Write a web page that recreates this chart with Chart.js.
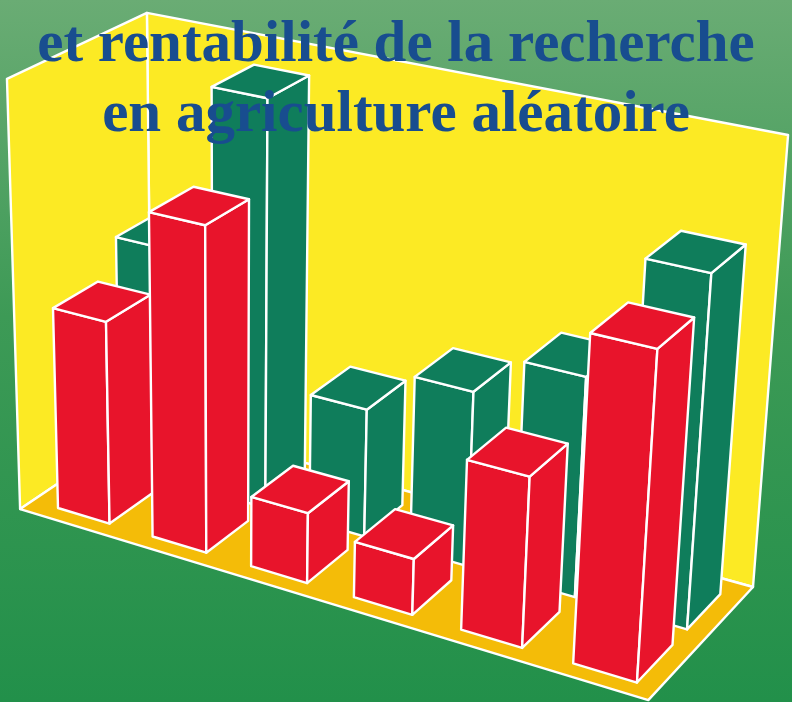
<!DOCTYPE html>
<html lang="fr">
<head>
<meta charset="utf-8">
<title>et rentabilité de la recherche en agriculture aléatoire</title>
<script src="https://cdn.jsdelivr.net/npm/chart.js@4.4.1/dist/chart.umd.min.js"></script>
<style>
  html, body { margin: 0; padding: 0; background: #3f9a58; }
  #wrap { width: 792px; height: 702px; position: relative; }
</style>
</head>
<body>
<div id="wrap"><canvas id="chart"></canvas></div>
<script>
// values (wall height = 100)
const categories = ['1', '2', '3', '4', '5', '6'];
const frontValues = [48, 75.3, 16.4, 12.9, 38.3, 71.6];   // red row
const backValues = [56, 95.4, 30.2, 40.6, 50.1, 78.2];    // green row
const titleLines = ['et rentabilité de la recherche', 'en agriculture aléatoire'];

// perspective camera: image of the origin, vanishing points and axis scales
const ORIGIN = { x: 58, y: 508 };
const VX = { x: -4553, y: -882 };
const VY = { x: 229, y: 7344 };
const VZ = { x: 2163, y: -936 };
const KX = -0.0201, KY = -0.0005919, KZ = 0.02117;

// box and rows in world units (x: categories, y: values, z: bar depths)
const BOX = { x0: -0.2725, x1: 5.733, z0: -0.283, z1: 2.80, top: 100 };
const ROWS = [{ z0: 0, z1: 1 }, { z0: 1.424, z1: 2.424 }];

const COLORS = {
    front: '#e8142b',
    back: '#0f7d5b',
    wall: '#fcea24',
    floor: '#f4bc08',
    line: '#ffffff',
    title: '#184d8f'
};

function project(X, Y, Z) {
    const w = 1 + KX * X + KY * Y + KZ * Z;
    const px = ORIGIN.x + KX * X * VX.x + KY * Y * VY.x + KZ * Z * VZ.x;
    const py = ORIGIN.y + KX * X * VX.y + KY * Y * VY.y + KZ * Z * VZ.y;
    return [px / w, py / w];
}

function face(ctx, corners, fill) {
    ctx.beginPath();
    corners.forEach((c, i) => {
        const p = project(c[0], c[1], c[2]);
        if (i === 0) ctx.moveTo(p[0], p[1]);
        else ctx.lineTo(p[0], p[1]);
    });
    ctx.closePath();
    ctx.fillStyle = fill;
    ctx.fill();
    ctx.stroke();
}

function drawBox(ctx, x0, x1, h, z0, z1, fill) {
    face(ctx, [[x0, 0, z0], [x1, 0, z0], [x1, h, z0], [x0, h, z0]], fill);
    face(ctx, [[x1, 0, z0], [x1, 0, z1], [x1, h, z1], [x1, h, z0]], fill);
    face(ctx, [[x0, h, z0], [x1, h, z0], [x1, h, z1], [x0, h, z1]], fill);
}

const scene3d = {
    id: 'scene3d',
    beforeDraw(chart) {
        const ctx = chart.ctx;
        const xs = chart.scales.x;
        const ys = chart.scales.y;
        const catW = xs.width / categories.length;

        ctx.save();
        const bg = ctx.createLinearGradient(0, 0, 0, chart.height);
        bg.addColorStop(0, '#6aac74');
        bg.addColorStop(0.45, '#3d9a56');
        bg.addColorStop(1, '#22904a');
        ctx.fillStyle = bg;
        ctx.fillRect(0, 0, chart.width, chart.height);

        ctx.strokeStyle = COLORS.line;
        ctx.lineWidth = 2.4;
        ctx.lineJoin = 'round';

        const b = BOX;
        face(ctx, [[b.x0, 0, b.z1], [b.x1, 0, b.z1], [b.x1, b.top, b.z1], [b.x0, b.top, b.z1]], COLORS.wall);
        face(ctx, [[b.x0, 0, b.z0], [b.x0, 0, b.z1], [b.x0, b.top, b.z1], [b.x0, b.top, b.z0]], COLORS.wall);
        face(ctx, [[b.x0, 0, b.z0], [b.x1, 0, b.z0], [b.x1, 0, b.z1], [b.x0, 0, b.z1]], COLORS.floor);

        // back row first, then front row; left to right inside a row
        [1, 0].forEach(di => {
            const meta = chart.getDatasetMeta(di);
            const row = ROWS[di];
            const fill = chart.data.datasets[di].faceColor;
            meta.data.forEach(el => {
                const x0 = (el.x - el.width / 2 - xs.left) / catW - 0.225;
                const x1 = x0 + el.width / catW;
                const h = ys.getValueForPixel(el.y) - ys.getValueForPixel(el.base);
                drawBox(ctx, x0, x1, h, row.z0, row.z1, fill);
            });
        });
        ctx.restore();
    }
};

new Chart(document.getElementById('chart'), {
    type: 'bar',
    data: {
        labels: categories,
        datasets: [{
            label: 'rentabilité',
            data: frontValues,
            faceColor: COLORS.front,
            backgroundColor: 'rgba(0,0,0,0)',
            borderWidth: 0,
            grouped: false,
            barPercentage: 0.55,
            categoryPercentage: 1
        }, {
            label: 'recherche',
            data: backValues,
            faceColor: COLORS.back,
            backgroundColor: 'rgba(0,0,0,0)',
            borderWidth: 0,
            grouped: false,
            barPercentage: 0.55,
            categoryPercentage: 1
        }]
    },
    options: {
        responsive: true,
        maintainAspectRatio: false,
        animation: false,
        events: [],
        layout: { padding: 0 },
        plugins: {
            legend: { display: false },
            tooltip: { enabled: false },
            title: {
                display: true,
                text: titleLines,
                color: COLORS.title,
                font: { family: 'Liberation Serif', size: 59, weight: 'bold', lineHeight: 1.186 },
                padding: { top: 11, bottom: 0 }
            }
        },
        scales: {
            x: { display: false },
            y: { display: false, min: 0, max: 100 }
        }
    },
    plugins: [scene3d]
});
</script>
</body>
</html>
